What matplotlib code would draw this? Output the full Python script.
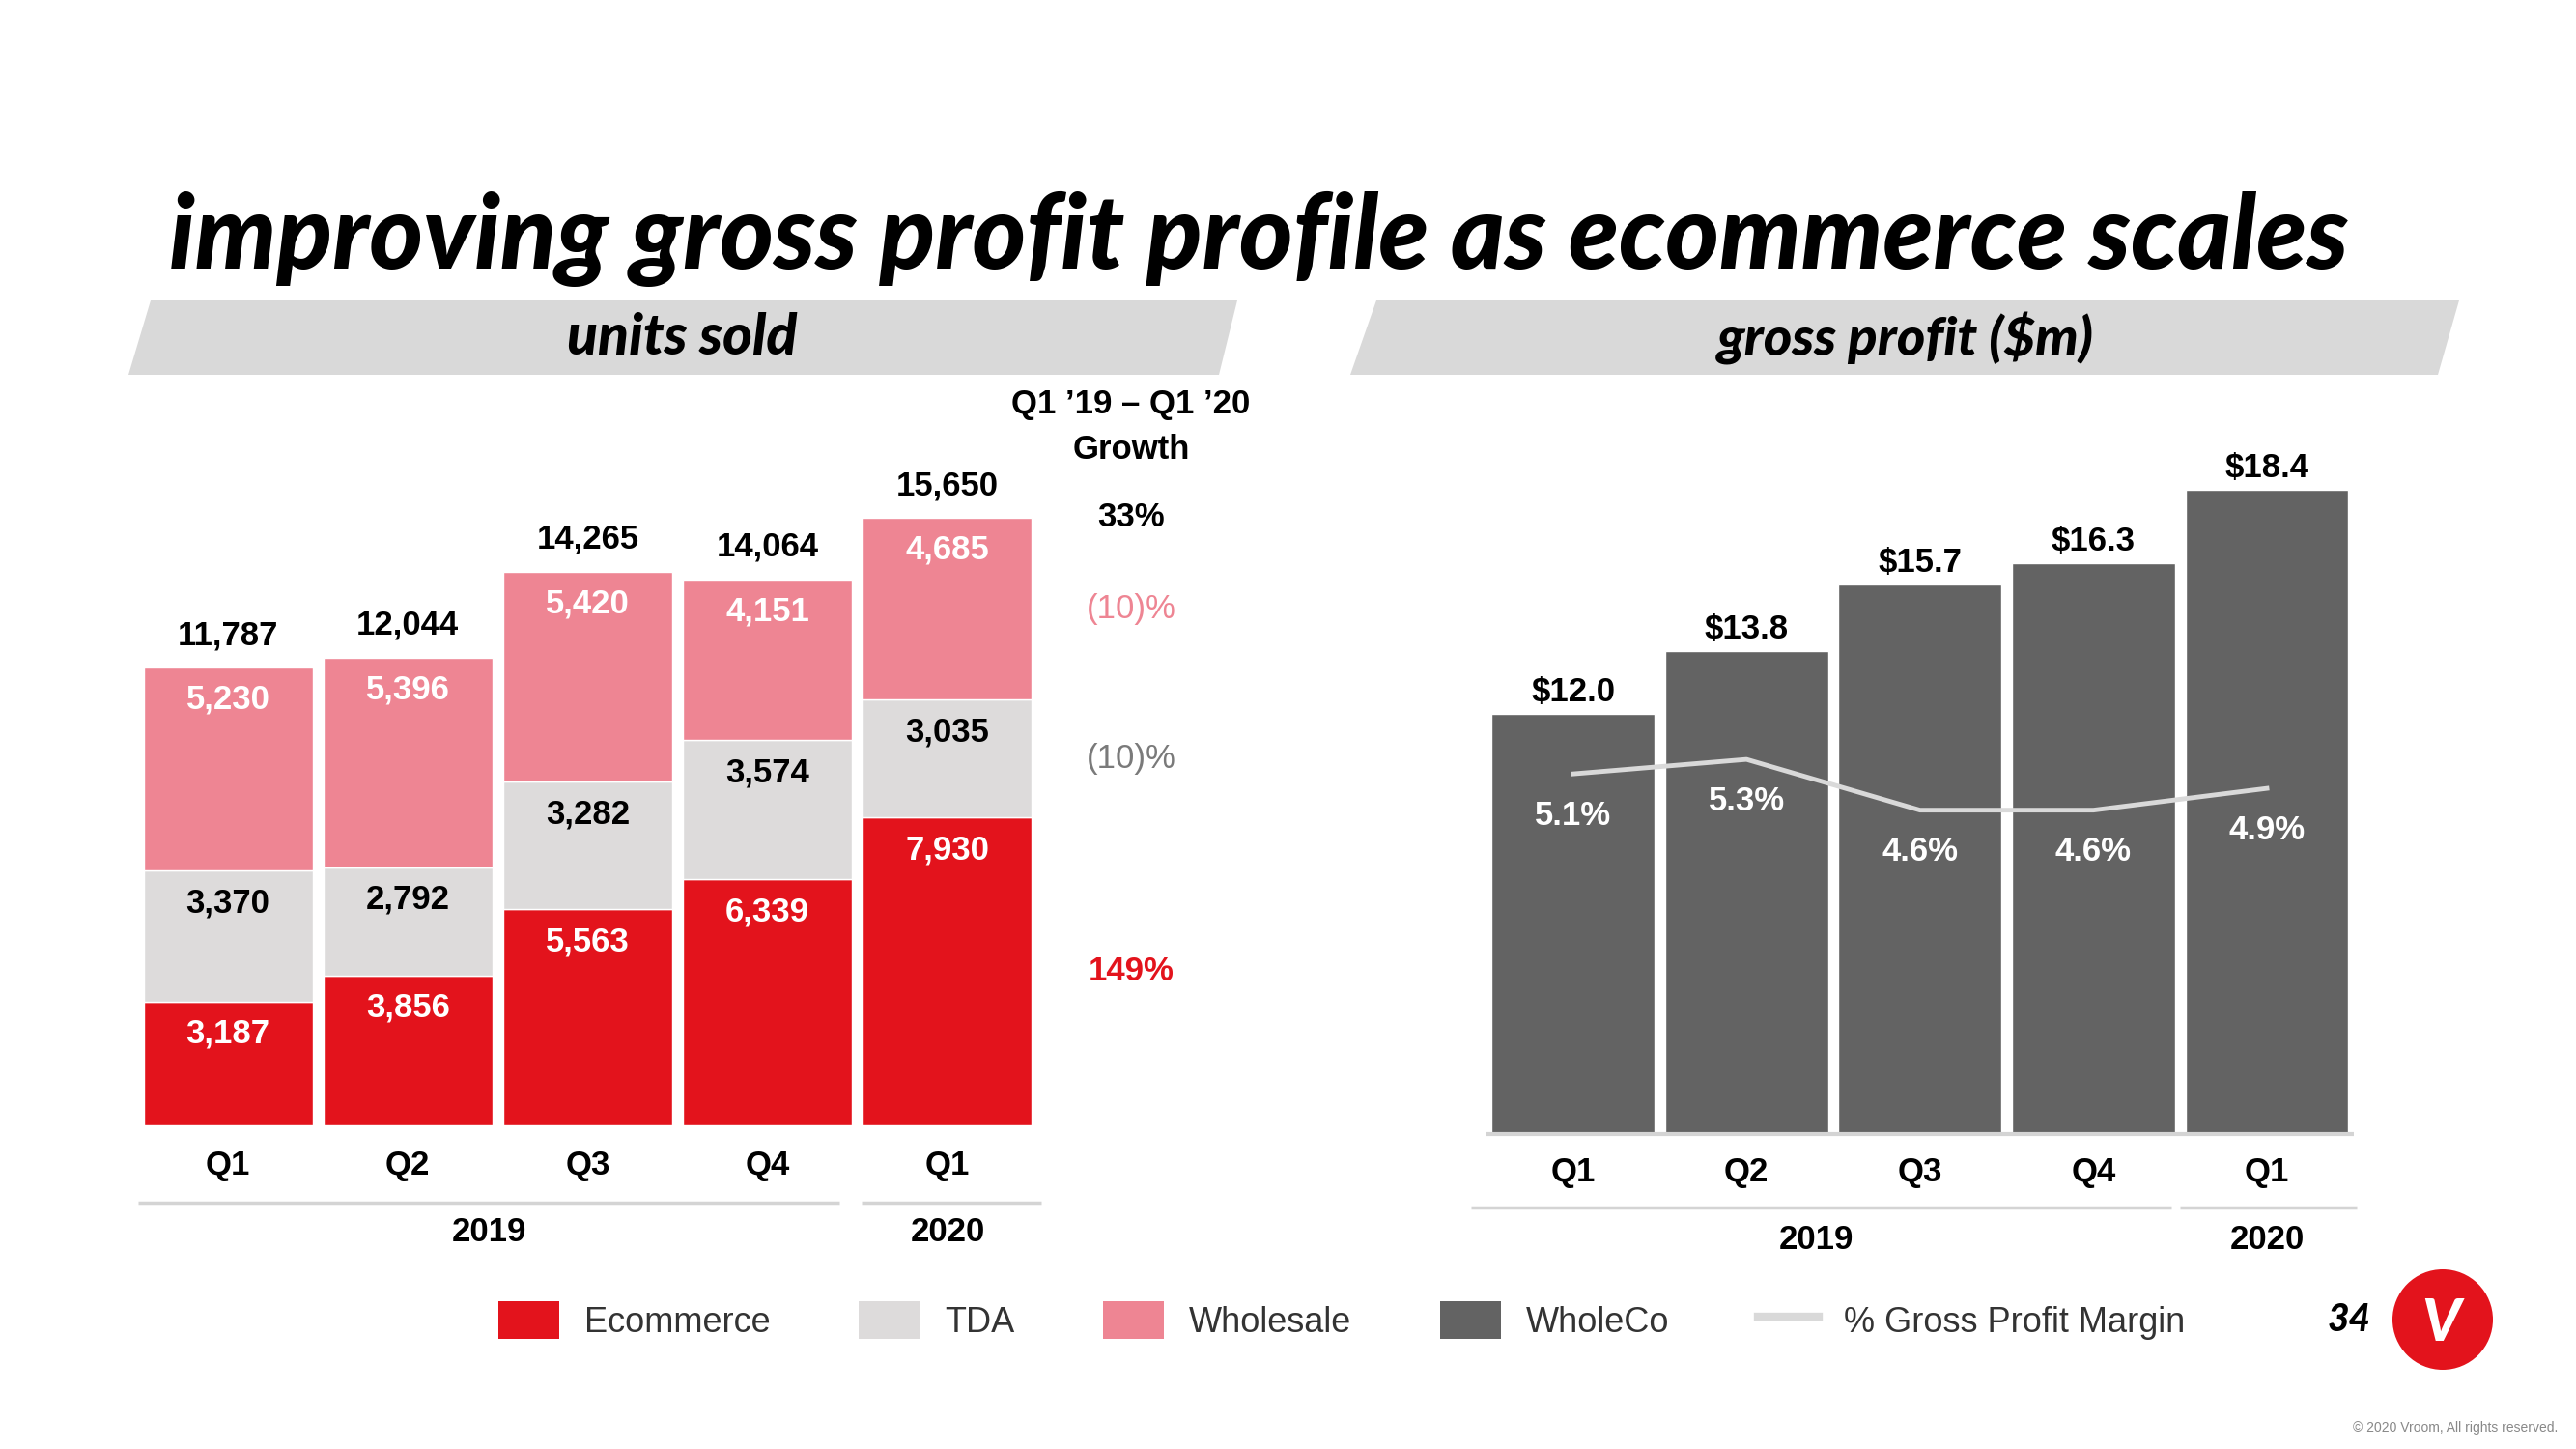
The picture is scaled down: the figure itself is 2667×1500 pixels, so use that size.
import matplotlib
matplotlib.use('Agg')
import matplotlib.pyplot as plt
from matplotlib.patches import Polygon, Patch, Ellipse
from matplotlib.lines import Line2D
import numpy as np

plt.rcParams['font.family'] = ['Liberation Sans', 'DejaVu Sans']

# data
quarters = ['Q1', 'Q2', 'Q3', 'Q4', 'Q1']
ecommerce = [3187, 3856, 5563, 6339, 7930]
tda = [3370, 2792, 3282, 3574, 3035]
wholesale = [5230, 5396, 5420, 4151, 4685]
growth_labels = ['33%', '(10)%', '(10)%', '149%']

gross_profit = [12.0, 13.8, 15.7, 16.3, 18.4]
gp_margin = [5.1, 5.3, 4.6, 4.6, 4.9]

RED = '#e3131c'
PINK = '#ee8593'
LGRAY = '#dddbdb'
DGRAY = '#636363'
LINE = '#d9d9d9'
SEP = '#d4d4d4'
FS = 25

TITLE_FONT = dict(family=['Lato', 'DejaVu Sans'], weight='black', style='italic')


def fit_width(fig, txt, target_px):
    r = fig.canvas.get_renderer()
    w = txt.get_window_extent(r).width
    txt.set_fontsize(txt.get_fontsize() * target_px / w)


def main():
    fig = plt.figure(figsize=(26.67, 15), dpi=100)
    W, H = 2667, 1500

    # title + banners
    t = fig.text(1303 / W, 1 - 247 / H, 'improving gross profit profile as ecommerce scales',
                 ha='center', va='center', fontsize=70, color='black', **TITLE_FONT)
    fit_width(fig, t, 2257)

    for pts in ([(156, 311), (1281, 311), (1262, 388), (133, 388)],
                [(1425, 311), (2546, 311), (2524, 388), (1398, 388)]):
        fig.patches.append(Polygon([(x / W, 1 - y / H) for x, y in pts], closed=True,
                                   transform=fig.transFigure, facecolor='#d9d9d9',
                                   edgecolor='none', zorder=0))
    t = fig.text(706 / W, 1 - 350 / H, 'units sold', ha='center', va='center',
                 fontsize=30, **TITLE_FONT)
    fit_width(fig, t, 238)
    t = fig.text(1973 / W, 1 - 350 / H, 'gross profit ($m)', ha='center', va='center',
                 fontsize=30, **TITLE_FONT)
    fit_width(fig, t, 390)

    # ---- units sold (stacked) ----
    ax = fig.add_axes([143 / W, 1 - 1165 / H, 931 / W, 804 / H])
    x = np.arange(len(quarters))
    bw = 0.94
    ec = np.array(ecommerce)
    td = np.array(tda)
    ws = np.array(wholesale)
    totals = ec + td + ws
    ax.bar(x, ec, bw, color=RED, edgecolor='white', linewidth=1)
    ax.bar(x, td, bw, bottom=ec, color=LGRAY, edgecolor='white', linewidth=1)
    ax.bar(x, ws, bw, bottom=ec + td, color=PINK, edgecolor='white', linewidth=1)
    ax.set_xlim(-0.5, 4.5)
    ax.set_ylim(0, 20000)
    ax.axis('off')

    for i in range(len(x)):
        for top, val, col in ((ec[i], ec[i], 'white'),
                              (ec[i] + td[i], td[i], 'black'),
                              (totals[i], ws[i], 'white')):
            ax.annotate(f'{val:,}', (x[i], top), xytext=(0, -24), textcoords='offset points',
                        ha='center', va='center', fontsize=FS, fontweight='bold', color=col)
        ax.annotate(f'{totals[i]:,}', (x[i], totals[i]), xytext=(0, 24),
                    textcoords='offset points', ha='center', va='center',
                    fontsize=FS, fontweight='bold', color='black')

    # growth column
    gx = 5.02
    ax.text(gx, 18580, "Q1 \u201919 \u2013 Q1 \u201920", ha='center', va='center',
            fontsize=FS, fontweight='bold', clip_on=False)
    ax.text(gx, 17390, 'Growth', ha='center', va='center', fontsize=FS,
            fontweight='bold', clip_on=False)
    last = len(x) - 1
    gy = [totals[last],
          ec[last] + td[last] + ws[last] / 2,
          ec[last] + td[last] / 2,
          ec[last] / 2]
    gstyle = [('black', 'bold'), (PINK, 'normal'), ('#7a7a7a', 'normal'), (RED, 'bold')]
    for lab, yy, (c, fw) in zip(growth_labels, gy, gstyle):
        ax.text(gx, yy, lab, ha='center', va='center', fontsize=FS, color=c,
                fontweight=fw, clip_on=False)

    tr = ax.get_xaxis_transform()
    for i, q in enumerate(quarters):
        ax.text(x[i], -0.051, q, transform=tr, ha='center', va='center',
                fontsize=FS, fontweight='bold', clip_on=False)
    ax.plot([-0.5, 3.4], [-0.0995] * 2, transform=tr, color=SEP, lw=2.5, clip_on=False,
            solid_capstyle='butt')
    ax.plot([3.52, 4.52], [-0.0995] * 2, transform=tr, color=SEP, lw=2.5, clip_on=False,
            solid_capstyle='butt')
    ax.text(1.45, -0.138, '2019', transform=tr, ha='center', va='center', fontsize=FS,
            fontweight='bold', clip_on=False)
    ax.text(4, -0.138, '2020', transform=tr, ha='center', va='center', fontsize=FS,
            fontweight='bold', clip_on=False)

    # ---- gross profit ----
    ax2 = fig.add_axes([1538.8 / W, 1 - 1174 / H, 898 / W, 797.5 / H])
    ax2.bar(x, gross_profit, bw, color=DGRAY, edgecolor='white', linewidth=1)
    ax2.set_xlim(-0.5, 4.5)
    ax2.set_ylim(0, 22)
    ax2.axis('off')
    ax2.plot([-0.5, 4.5], [0, 0], color=SEP, lw=3, clip_on=False, solid_capstyle='butt')
    for i, v in enumerate(gross_profit):
        ax2.annotate(f'${v:.1f}', (x[i], v), xytext=(0, 16), textcoords='offset points',
                     ha='center', va='center', fontsize=FS, fontweight='bold')

    ax3 = ax2.twinx()
    ax3.set_ylim(0.13, 10.76)
    ax3.axis('off')
    ax3.plot(x, gp_margin, color=LINE, lw=3.5)
    for i, m in enumerate(gp_margin):
        ax3.annotate(f'{m:.1f}%', (x[i], m), xytext=(0, -31), textcoords='offset points',
                     ha='center', va='center', fontsize=FS, fontweight='bold', color='white')

    tr2 = ax2.get_xaxis_transform()
    for i, q in enumerate(quarters):
        ax2.text(x[i], -0.050, q, transform=tr2, ha='center', va='center',
                 fontsize=FS, fontweight='bold', clip_on=False)
    ax2.plot([-0.59, 3.45], [-0.0953] * 2, transform=tr2, color=SEP, lw=2.5,
             clip_on=False, solid_capstyle='butt')
    ax2.plot([3.5, 4.52], [-0.0953] * 2, transform=tr2, color=SEP, lw=2.5,
             clip_on=False, solid_capstyle='butt')
    ax2.text(1.4, -0.1367, '2019', transform=tr2, ha='center', va='center', fontsize=FS,
             fontweight='bold', clip_on=False)
    ax2.text(4, -0.1367, '2020', transform=tr2, ha='center', va='center', fontsize=FS,
             fontweight='bold', clip_on=False)

    # legend
    handles = [Patch(facecolor=RED), Patch(facecolor=LGRAY), Patch(facecolor=PINK),
               Patch(facecolor=DGRAY), Line2D([], [], color=LINE, lw=6)]
    labels = ['Ecommerce', 'TDA', 'Wholesale', 'WholeCo', '% Gross Profit Margin']
    leg = fig.legend(handles, labels, loc='center', bbox_to_anchor=(1389 / W, 1 - 1367 / H),
                     ncol=5, frameon=False, fontsize=26, handlelength=1.75,
                     handleheight=1.3, handletextpad=0.7, columnspacing=2.55)
    for txt in leg.get_texts():
        txt.set_color('#333333')

    # page number + logo
    fig.text(2432 / W, 1 - 1367 / H, '34', ha='center', va='center', fontsize=28,
             **TITLE_FONT)
    fig.patches.append(Ellipse((2529 / W, 1 - 1366 / H), 104 / W, 104 / H,
                               transform=fig.transFigure, facecolor=RED, edgecolor='none'))
    fig.text(2527 / W, 1 - 1370 / H, 'V', ha='center', va='center', fontsize=44,
             color='white', **TITLE_FONT)
    fig.text(2648 / W, 1 - 1478 / H, '\u00a9 2020 Vroom, All rights reserved.',
             ha='right', va='center', fontsize=10, color='#888888')

    fig.savefig('out.png', dpi=100, facecolor='white')
    plt.close(fig)


if __name__ == '__main__':
    main()
